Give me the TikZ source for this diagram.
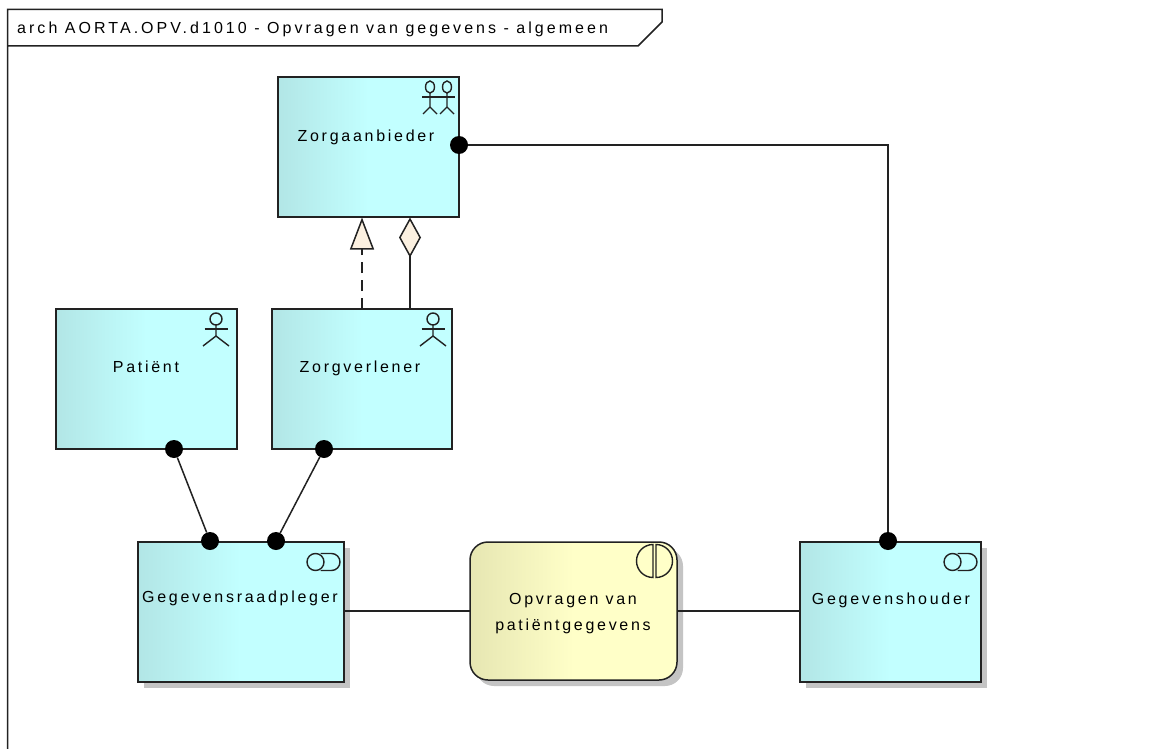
\documentclass[tikz,border=0pt]{standalone}
\usepackage{fontspec}
\setmainfont{Liberation Sans}
\newfontfamily\labelfont[LetterSpace=17]{Liberation Sans}
\newfontfamily\titlefont[LetterSpace=19]{Liberation Sans}
\usetikzlibrary{arrows.meta,shadows,positioning,calc}
\definecolor{aqdark}{HTML}{B2E6E6}
\definecolor{aqlight}{HTML}{C2FFFF}
\definecolor{yedark}{HTML}{E6E6B2}
\definecolor{yelight}{HTML}{FFFFC8}
\definecolor{cream}{HTML}{FBF0E0}
\definecolor{ink}{HTML}{222222}
\definecolor{shadowgray}{HTML}{C4C4C4}
\pgfdeclarehorizontalshading{aqshade}{100bp}{color(0bp)=(aqdark); color(25bp)=(aqdark); color(50bp)=(aqlight); color(100bp)=(aqlight)}
\pgfdeclarehorizontalshading{yeshade}{100bp}{color(0bp)=(yedark); color(25bp)=(yedark); color(50bp)=(yelight); color(100bp)=(yelight)}
\tikzset{
  box/.style={draw=ink,line width=1.5pt,shading=aqshade,rectangle,inner sep=0pt,outer sep=0pt,anchor=north west},
  shadowed/.style={drop shadow={shadow xshift=6pt,shadow yshift=-6pt,fill=shadowgray,opacity=1}},
  txt/.style={font=\labelfont\fontsize{16}{26}\selectfont,text=black,inner sep=0pt,align=center,anchor=base},
  dot/.style={circle,fill=black,draw=none,minimum size=18pt,inner sep=0pt},
  conn/.style={draw=ink,line width=1.5pt},
  icon/.style={draw=ink,line width=1.4pt},
}
\newcommand{\actoricon}[2]{%
  \draw[icon] (#1,#2) circle (6);
  \draw[icon] (#1-11.5,#2+10) -- (#1+11.5,#2+10);
  \draw[icon] (#1,#2+6) -- (#1,#2+17) (#1-13,#2+27) -- (#1,#2+17) -- (#1+13,#2+27);
}
\newcommand{\groupicon}[2]{%
  \draw[icon] (#1,#2) ellipse (4.5 and 6) (#1+17,#2) ellipse (4.5 and 6);
  \draw[icon] (#1-8,#2+10) -- (#1+25,#2+10);
  \draw[icon] (#1,#2+6) -- (#1,#2+20) (#1-7,#2+27) -- (#1,#2+20) -- (#1+7,#2+27);
  \draw[icon] (#1+17,#2+6) -- (#1+17,#2+20) (#1+10,#2+27) -- (#1+17,#2+20) -- (#1+24,#2+27);
}
\newcommand{\collabicon}[2]{%
  \draw[icon] (#1,#2) circle (8.5);
  \draw[icon] (#1+5,#2-8.5) -- (#1+16,#2-8.5) arc (-90:90:8.5) -- (#1+5,#2+8.5);
}
\begin{document}
\begin{tikzpicture}[x=1pt,y=-1pt]
\useasboundingbox (0,0) rectangle (1169,749);
\fill[white] (0,0) rectangle (1169,749);
% frame
\draw[conn] (7.5,749) -- (7.5,9.5) -- (662,9.5) -- (662,22) -- (638,46) -- (7.5,46);
\node[font=\titlefont\fontsize{16}{16}\selectfont,anchor=base west,inner sep=0pt] (title) at (17,34) {arch AORTA.OPV.d1010 - Opvragen van gegevens - algemeen};
% boxes
\node[box,minimum width=181pt,minimum height=140pt] (za) at (278,77) {};
\node[box,minimum width=181pt,minimum height=140pt] (pa) at (56,309) {};
\node[box,minimum width=180pt,minimum height=140pt] (zv) at (272,309) {};
\node[box,shadowed,minimum width=206pt,minimum height=140pt] (rp) at (138,542) {};
\node[box,shadowed,minimum width=207pt,minimum height=138pt,rounded corners=18pt,shading=yeshade] (op) at (470,542) {};
\node[box,shadowed,minimum width=181pt,minimum height=140pt] (gh) at (800,542) {};
% labels
\node[txt] (zat) at (366,142) {Zorgaanbieder};
\node[txt] (pat) at (146,372) {Patiënt};
\node[txt] (zvt) at (360,372) {Zorgverlener};
\node[txt] (rpt) at (240,602) {Gegevensraadpleger};
\node[txt] (op1) at (573,604) {Opvragen van};
\node[txt] (op2) at (573,630) {patiëntgegevens};
\node[txt] (ght) at (891,604) {Gegevenshouder};
% icons
\groupicon{430}{87}
\actoricon{216}{319}
\actoricon{433}{319}
\collabicon{315.5}{562}
\collabicon{952.5}{562}
\draw[icon] (653,544.5) arc (270:90:16.5) -- cycle;
\draw[icon] (656,544.5) arc (-90:90:16.5) -- cycle;
% dots
\node[dot] (d1) at (459,145) {};
\node[dot] (d2) at (888,541) {};
\node[dot] (d3) at (174,449) {};
\node[dot] (d4) at (210,541) {};
\node[dot] (d5) at (324,449) {};
\node[dot] (d6) at (276,541) {};
% connectors
\draw[conn] (d1) -| (d2);
\draw[conn] (d3) -- (d4);
\draw[conn] (d5) -- (d6);
\draw[conn] (op.west -| rp.east) -- (op.west);
\draw[conn] (op.east) -- (op.east -| gh.west);
\coordinate (r1) at (362,309);
\coordinate (r2) at (362,217.5);
\coordinate (a1) at (410,309);
\coordinate (a2) at (410,217.5);
\draw[conn,dash pattern=on 11pt off 7pt,-{Triangle[length=32pt,width=24pt,fill=cream,line width=1.5pt]}] (r1) -- (r2);
\draw[conn,-{Diamond[length=40pt,width=22pt,fill=cream,line width=1.5pt]}] (a1) -- (a2);
\end{tikzpicture}
\end{document}
